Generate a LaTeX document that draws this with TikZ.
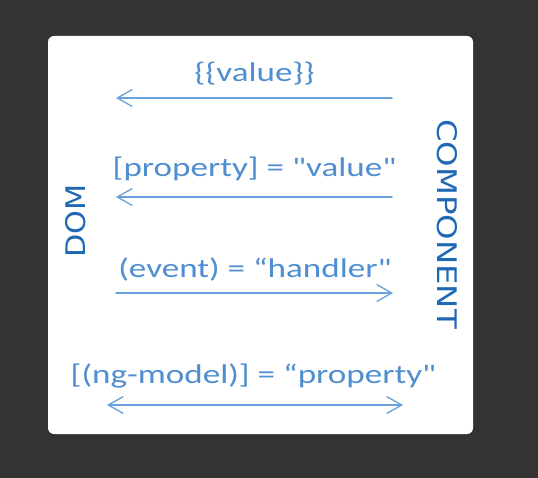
\documentclass[tikz,border=0pt]{standalone}
\usepackage{fontspec}
\usetikzlibrary{arrows.meta}
\newfontfamily\handfont{Carlito}[FakeStretch=1.3]
\newfontfamily\sidefont{DejaVu Sans}[FakeStretch=1.12]
\newfontfamily\widesidefont{DejaVu Sans}[FakeStretch=1.2]
\definecolor{pagebg}{HTML}{333333}
\definecolor{inkblue}{HTML}{4F8ED0}
\definecolor{lineblue}{HTML}{68A2DC}
\definecolor{sideblue}{HTML}{1F68B4}
\tikzset{
  binding/.style={anchor=base, text=inkblue, inner sep=0pt,
    font=\handfont\fontsize{27}{30}\selectfont},
  sidelabel/.style={text=sideblue, inner sep=0pt,
    font=\sidefont\fontsize{27}{30}\selectfont},
  flow/.style={draw=lineblue, line width=1.5pt, line cap=round,
    line join=round},
  barb/.tip={Straight Barb[length=15pt, width=17pt, line width=1.3pt]}
}
\begin{document}
\begin{tikzpicture}[x=1pt, y=-1pt]
  % page and card
  \useasboundingbox (0,0) rectangle (538,478);
  \fill[pagebg] (0,0) rectangle (538,478);
  \fill[white, rounded corners=6pt] (48,36) rectangle (473,434);

  % side labels
  \node[sidelabel, rotate=90]  (dom)  at (76,221)  {DOM};
  \node[sidelabel, rotate=-90,
        font=\widesidefont\fontsize{27}{30}\selectfont]
        (comp) at (447,224) {COMPONENT};

  % binding captions
  \node[binding] (interp) at (254.5,81.5)  {\{\{value\}\}};
  \node[binding] (prop)   at (254.5,177)   {[property] = "value"};
  \node[binding] (event)  at (255,278)     {(event) = “handler"};
  \node[binding] (twoway) at (253.5,383)   {[(ng-model)] = “property"};

  % arrow end points
  \coordinate (a1r) at (392,98);  \coordinate (a1l) at (116,98);
  \coordinate (a2r) at (392,197); \coordinate (a2l) at (116,197);
  \coordinate (a3l) at (116,293); \coordinate (a3r) at (393,293);
  \coordinate (a4l) at (107,405); \coordinate (a4r) at (403,405);

  % data-flow arrows
  \draw[flow, -barb] (a1r) -- (a1l);
  \draw[flow, -barb] (a2r) -- (a2l);
  \draw[flow, -barb] (a3l) -- (a3r);
  \draw[flow, barb-barb] (a4l) -- (a4r);
\end{tikzpicture}
\end{document}
